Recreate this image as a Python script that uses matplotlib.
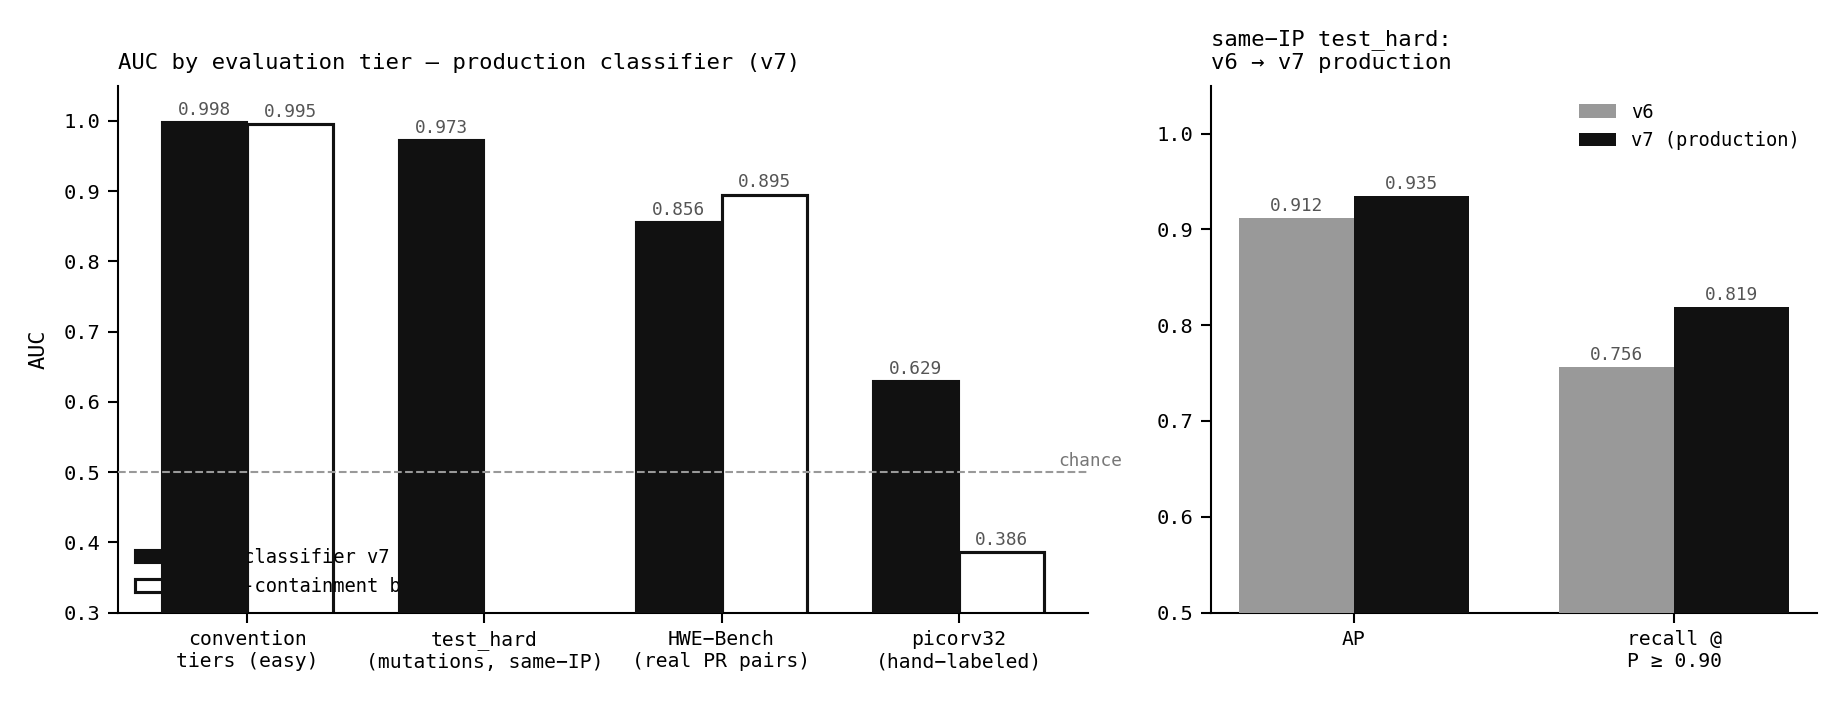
import matplotlib
matplotlib.use("Agg")
import matplotlib.pyplot as plt
import numpy as np

plt.rcParams["font.family"] = ["DejaVu Sans Mono"]
plt.rcParams["axes.linewidth"] = 1.0
plt.rcParams["xtick.major.size"] = 5
plt.rcParams["ytick.major.size"] = 5
plt.rcParams["xtick.major.width"] = 1.0
plt.rcParams["ytick.major.width"] = 1.0

# ----------------------------
# Data
# ----------------------------

tiers = [
    "convention\ntiers (easy)",
    "test_hard\n(mutations, same\u2212IP)",
    "HWE\u2212Bench\n(real PR pairs)",
    "picorv32\n(hand\u2212labeled)",
]
auc_v7 = [0.998, 0.973, 0.856, 0.629]
auc_baseline = [0.995, np.nan, 0.895, 0.386]

metrics = ["AP", "recall @\nP \u2265 0.90"]
v6_scores = [0.912, 0.756]
v7_scores = [0.935, 0.819]

BLACK = "#111111"
GREY = "#999999"
LABEL_GREY = "#555555"
w = 0.36

fig = plt.figure(figsize=(1846 / 150, 703 / 150), dpi=150)
ax1 = fig.add_axes([0.0639, 0.1287, 0.5255, 0.7495])
ax2 = fig.add_axes([0.6560, 0.1287, 0.3283, 0.7495])


def label_bars(ax, xs, vals):
    for x, v in zip(xs, vals):
        if np.isnan(v):
            continue
        ax.annotate(f"{v:.3f}", (x, v), xytext=(0, 1.5), textcoords="offset points",
                    ha="center", va="bottom", fontsize=8.5, color=LABEL_GREY, zorder=6)


# ----------------------------
# Left: AUC per tier
# ----------------------------

x = np.arange(len(tiers))
ax1.bar(x - w / 2, auc_v7, w, color=BLACK, edgecolor=BLACK, linewidth=1.0,
        label="prod classifier v7", zorder=3)
ax1.bar(x + w / 2, auc_baseline, w, color="white", edgecolor=BLACK, linewidth=1.5,
        label="token-containment baseline", zorder=1.5)
label_bars(ax1, x - w / 2, auc_v7)
label_bars(ax1, x + w / 2, auc_baseline)

ax1.axhline(0.5, color=GREY, linestyle="--", linewidth=1.0, zorder=4)
ax1.text(3.42, 0.503, "chance", ha="left", va="bottom", fontsize=8.5, color="#777777")

ax1.set_ylim(0.3, 1.05)
ax1.set_yticks(np.arange(0.3, 1.01, 0.1))
ax1.set_xticks(x)
ax1.set_xticklabels(tiers, fontsize=9.5)
ax1.tick_params(axis="y", labelsize=9.8)
ax1.set_ylabel("AUC", fontsize=10.5, labelpad=7)
ax1.set_title("AUC by evaluation tier \u2014 production classifier (v7)", loc="left",
              fontsize=10.7, pad=8)
leg = ax1.legend(loc="lower left", frameon=False, fontsize=9)
leg.set_zorder(2)

# ----------------------------
# Right: v6 vs v7 on same-IP test_hard
# ----------------------------

x2 = np.arange(len(metrics))
ax2.bar(x2 - w / 2, v6_scores, w, color=GREY, label="v6", zorder=3)
ax2.bar(x2 + w / 2, v7_scores, w, color=BLACK, label="v7 (production)", zorder=3)
label_bars(ax2, x2 - w / 2, v6_scores)
label_bars(ax2, x2 + w / 2, v7_scores)

ax2.set_ylim(0.5, 1.05)
ax2.set_yticks(np.arange(0.5, 1.01, 0.1))
ax2.set_xticks(x2)
ax2.set_xticklabels(metrics, fontsize=9.5)
ax2.tick_params(axis="y", labelsize=9.8)
ax2.set_title("same\u2212IP test_hard:\nv6 \u2192 v7 production", loc="left",
              fontsize=10.7, pad=8)
ax2.legend(loc="upper right", frameon=False, fontsize=9)

for ax in (ax1, ax2):
    ax.spines["top"].set_visible(False)
    ax.spines["right"].set_visible(False)

fig.savefig("out.png", dpi=150)
